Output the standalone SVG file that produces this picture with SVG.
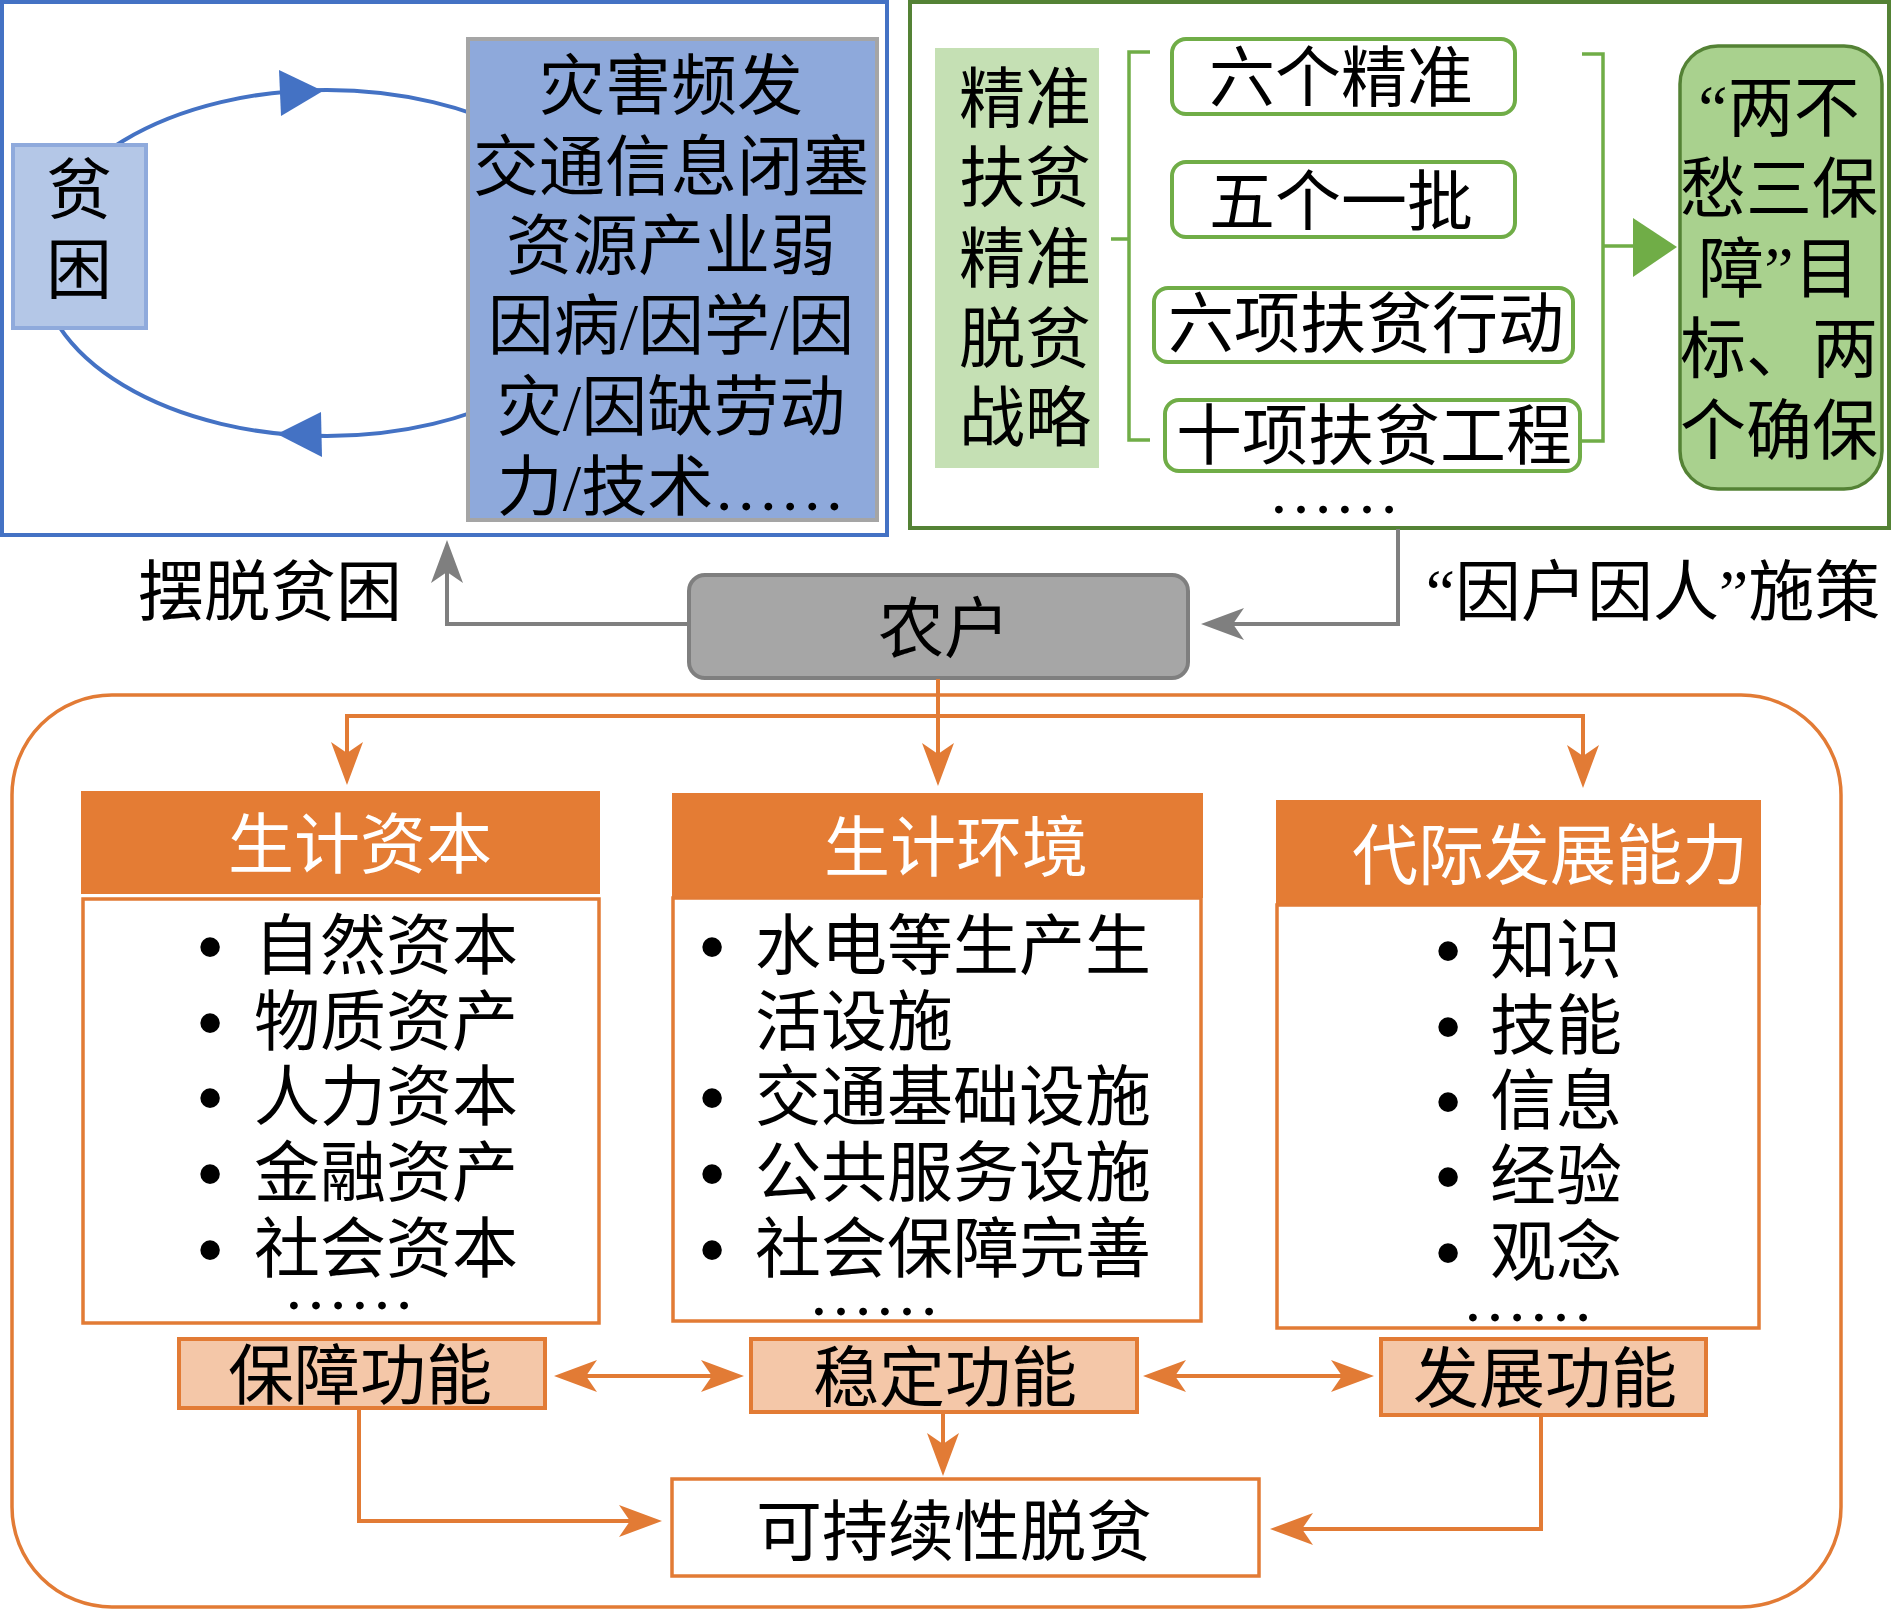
<svg xmlns="http://www.w3.org/2000/svg" width="1893" height="1610" viewBox="0 0 1893 1610">
<style>
text{font-family:"Noto Sans CJK SC","Noto Sans CJK TC",sans-serif;font-size:66px;fill:#000}
.m{text-anchor:middle}
.w{fill:#fff}
.lat{font-family:"Liberation Serif",serif}
.bul{font-family:"Liberation Sans",sans-serif;font-size:72px;text-anchor:middle}
.ol{fill:none;stroke:#E27B35;stroke-width:4}
.gl{fill:none;stroke:#7F7F7F;stroke-width:4}
.grl{fill:none;stroke:#70AD47;stroke-width:3.5}
.gbox{fill:#fff;stroke:#70AD47;stroke-width:4}
.hdr{fill:#E47C34}
.body{fill:#fff;stroke:#E27B35;stroke-width:3.5}
.fn{fill:#F4C7A8;stroke:#E27B35;stroke-width:4}
</style>
<defs>
<marker id="ao" viewBox="-12 -17 46 34" refX="0" refY="0" markerWidth="46" markerHeight="34" markerUnits="userSpaceOnUse" orient="auto-start-reverse"><path d="M-11,-16 L32,0 L-11,16 L0,0 Z" fill="#E27B35"/></marker>
<marker id="ag" viewBox="-12 -17 46 34" refX="0" refY="0" markerWidth="46" markerHeight="34" markerUnits="userSpaceOnUse" orient="auto-start-reverse"><path d="M-11,-16 L32,0 L-11,16 L0,0 Z" fill="#7F7F7F"/></marker>
</defs>
<rect x="0" y="0" width="1893" height="1610" fill="#fff"/>

<g id="poverty-cycle">
<rect x="2" y="2" width="885" height="533" fill="#fff" stroke="#4472C4" stroke-width="4"/>
<ellipse cx="327" cy="263" rx="288" ry="173" fill="none" stroke="#4472C4" stroke-width="4"/>
<polygon points="279,70 323,91 281,116" fill="#4472C4"/>
<polygon points="277,434 321,412 322,457" fill="#4472C4"/>
</g>
<g id="poverty">
<rect x="13" y="145" width="133" height="183" fill="#B4C7E7" stroke="#8FAADC" stroke-width="4"/>
<text class="m" x="79" y="213">贫</text>
<text class="m" x="79" y="293">困</text>
</g>
<g id="causes">
<rect x="468" y="39" width="409" height="481" fill="#8EA9DB" stroke="#A5A5A5" stroke-width="4"/>
<text class="m" x="671" y="109">灾害频发</text>
<text class="m" x="671" y="190">交通信息闭塞</text>
<text class="m" x="671" y="269">资源产业弱</text>
<text class="m" x="671" y="349">因病<tspan class="lat">/</tspan>因学<tspan class="lat">/</tspan>因</text>
<text class="m" x="671" y="430">灾<tspan class="lat">/</tspan>因缺劳动</text>
<text class="m" x="671" y="510">力<tspan class="lat">/</tspan>技术<tspan class="lat">……</tspan></text>
</g>

<g id="policy-frame">
<rect x="910" y="2" width="979" height="526" fill="#fff" stroke="#548235" stroke-width="4"/>
</g>
<g id="strategy">
<rect x="935" y="48" width="164" height="420" fill="#C5E0B4"/>
<text class="m" x="1025" y="122">精准</text>
<text class="m" x="1025" y="201">扶贫</text>
<text class="m" x="1025" y="282">精准</text>
<text class="m" x="1025" y="362">脱贫</text>
<text class="m" x="1025" y="441">战略</text>
</g>
<g id="six-precise">
<rect class="gbox" x="1172" y="39" width="343" height="75" rx="14"/>
<text class="m" x="1341" y="101">六个精准</text>
</g>
<g id="five-batch">
<rect class="gbox" x="1172" y="162" width="343" height="75" rx="14"/>
<text class="m" x="1341" y="225">五个一批</text>
</g>
<g id="six-actions">
<rect class="gbox" x="1154" y="288" width="419" height="74" rx="14"/>
<text class="m" x="1366" y="347">六项扶贫行动</text>
</g>
<g id="ten-projects">
<rect class="gbox" x="1165" y="400" width="415" height="71" rx="14"/>
<text class="m" x="1374" y="459">十项扶贫工程</text>
</g>
<g id="policy-more">
<text class="lat" x="1268" y="513">……</text>
</g>
<g id="goals">
<rect x="1680" y="46" width="202" height="443" rx="38" fill="#A9D18E" stroke="#548235" stroke-width="3.5"/>
<text class="m" x="1779" y="131"><tspan class="lat">“</tspan>两不</text>
<text class="m" x="1779" y="212">愁三保</text>
<text class="m" x="1779" y="292">障<tspan class="lat">”</tspan>目</text>
<text class="m" x="1779" y="372">标、两</text>
<text class="m" x="1779" y="454">个确保</text>
</g>

<g id="farmer">
<rect x="689" y="575" width="499" height="103" rx="16" fill="#A6A6A6" stroke="#7F7F7F" stroke-width="4"/>
<text class="m" x="944" y="652">农户</text>
</g>
<g id="labels">
<text class="m" x="270" y="615">摆脱贫困</text>
<text class="m" x="1653" y="615"><tspan class="lat">“</tspan>因户因人<tspan class="lat">”</tspan>施策</text>
</g>

<g id="livelihood-frame">
<rect x="12" y="695" width="1829" height="912" rx="100" fill="none" stroke="#E27B35" stroke-width="3.5"/>
</g>
<g id="capital">
<rect class="hdr" x="81" y="791" width="519" height="103"/>
<text class="m w" x="360" y="868">生计资本</text>
<rect class="body" x="83" y="899" width="516" height="424"/>
<text class="bul" x="210" y="971">•</text><text x="254" y="969">自然资本</text>
<text class="bul" x="210" y="1047">•</text><text x="254" y="1045">物质资产</text>
<text class="bul" x="210" y="1122">•</text><text x="254" y="1120">人力资本</text>
<text class="bul" x="210" y="1198">•</text><text x="254" y="1196">金融资产</text>
<text class="bul" x="210" y="1274">•</text><text x="254" y="1272">社会资本</text>
<text class="lat" x="283" y="1309">……</text>
</g>
<g id="environment">
<rect class="hdr" x="672" y="793" width="531" height="105"/>
<text class="m w" x="956" y="871">生计环境</text>
<rect class="body" x="673" y="898" width="528" height="423"/>
<text class="bul" x="712" y="971">•</text><text x="755" y="969">水电等生产生</text>
<text x="755" y="1045">活设施</text>
<text class="bul" x="712" y="1122">•</text><text x="755" y="1120">交通基础设施</text>
<text class="bul" x="712" y="1198">•</text><text x="755" y="1196">公共服务设施</text>
<text class="bul" x="712" y="1274">•</text><text x="755" y="1272">社会保障完善</text>
<text class="lat" x="808" y="1315">……</text>
</g>
<g id="intergenerational">
<rect class="hdr" x="1276" y="800" width="485" height="105"/>
<text class="m w" x="1550" y="879">代际发展能力</text>
<rect class="body" x="1277" y="905" width="482" height="423"/>
<text class="bul" x="1448" y="975">•</text><text x="1490" y="973">知识</text>
<text class="bul" x="1448" y="1051">•</text><text x="1490" y="1049">技能</text>
<text class="bul" x="1448" y="1126">•</text><text x="1490" y="1124">信息</text>
<text class="bul" x="1448" y="1201">•</text><text x="1490" y="1199">经验</text>
<text class="bul" x="1448" y="1277">•</text><text x="1490" y="1275">观念</text>
<text class="lat" x="1462" y="1321">……</text>
</g>
<g id="guarantee">
<rect class="fn" x="179" y="1339" width="366" height="69"/>
<text class="m" x="360" y="1399">保障功能</text>
</g>
<g id="stability">
<rect class="fn" x="751" y="1339" width="386" height="73"/>
<text class="m" x="945" y="1401">稳定功能</text>
</g>
<g id="development">
<rect class="fn" x="1381" y="1339" width="325" height="76"/>
<text class="m" x="1545" y="1402">发展功能</text>
</g>
<g id="sustainable">
<rect class="body" x="672" y="1479" width="587" height="97" stroke-width="4"/>
<text class="m" x="954" y="1555">可持续性脱贫</text>
</g>

<g id="connectors">
<path class="grl" d="M1150,52 H1129 V440 H1150 M1129,239 H1111"/>
<path class="grl" d="M1582,54 H1603 V441 H1582 M1603,246 H1636"/>
<polygon points="1633,218 1677,247 1633,277" fill="#70AD47"/>
<path class="gl" d="M689,624 H447 V572" marker-end="url(#ag)"/>
<path class="gl" d="M1398,529 V624 H1233" marker-end="url(#ag)"/>
<path class="ol" d="M938,679 V754" marker-end="url(#ao)"/>
<path class="ol" d="M347,753 V716 H1583 V756" marker-start="url(#ao)" marker-end="url(#ao)"/>
<path class="ol" d="M586,1376 H712" marker-start="url(#ao)" marker-end="url(#ao)"/>
<path class="ol" d="M1175,1376 H1342" marker-start="url(#ao)" marker-end="url(#ao)"/>
<path class="ol" d="M943,1413 V1444" stroke-width="2.5" marker-end="url(#ao)"/>
<path class="ol" d="M359,1408 V1521 H630" marker-end="url(#ao)"/>
<path class="ol" d="M1541,1415 V1529 H1302" marker-end="url(#ao)"/>
</g>
</svg>
